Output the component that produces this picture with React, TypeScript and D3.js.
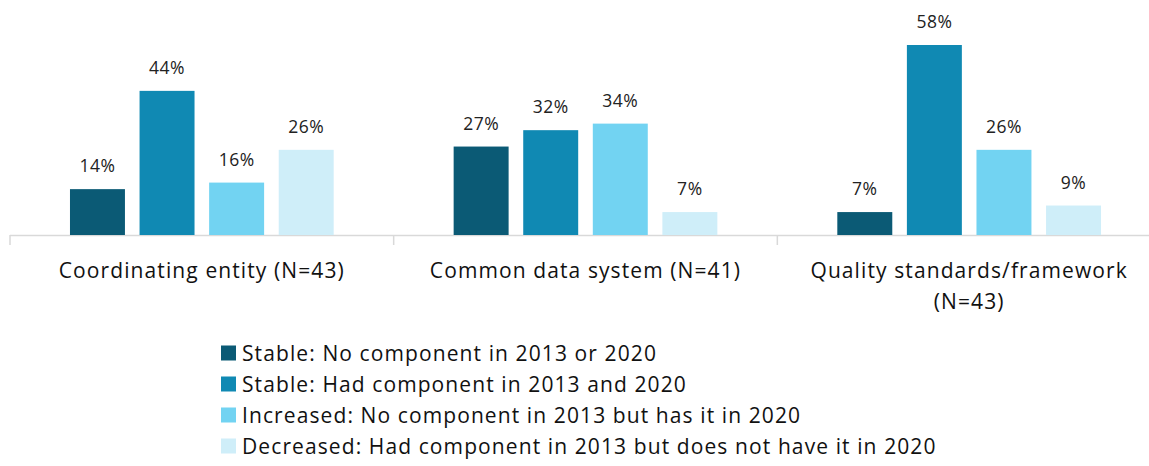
import * as d3 from 'd3';

const categories = ['Coordinating entity (N=43)', 'Common data system (N=41)', 'Quality standards/framework (N=43)'];
const categoryLines = [['Coordinating entity (N=43)'], ['Common data system (N=41)'], ['Quality standards/framework', '(N=43)']];
const seriesNames = [
    'Stable: No component in 2013 or 2020',
    'Stable: Had component in 2013 and 2020',
    'Increased: No component in 2013 but has it in 2020',
    'Decreased: Had component in 2013 but does not have it in 2020',
];
const seriesColors = ['#0b5a75', '#1089b3', '#72d3f2', '#cfeef9'];
const values = [
    [14, 44, 16, 26],
    [27, 32, 34, 7],
    [7, 58, 26, 9],
];

const width = 1149;
const height = 466;
const FONT = '"Open Sans", "Noto Sans", sans-serif';

const x0 = d3.scaleBand<number>()
    .domain(d3.range(categories.length))
    .range([10, 1161])
    .paddingInner(0)
    .paddingOuter(0);

const x1 = d3.scaleBand<number>()
    .domain(d3.range(seriesNames.length))
    .range([0, x0.bandwidth()])
    .paddingInner(0.21)
    .paddingOuter(0.862);

const baseline = 235;
const y = d3.scaleLinear().domain([0, 58]).range([baseline, 45]);

export default function App() {
    return (
        <svg width={width} height={height} style={{ display: 'block', position: 'absolute', left: 0, top: 0 }}>
            <line x1={10} x2={width} y1={baseline + 0.5} y2={baseline + 0.5} stroke="#d9d9d9" strokeWidth={1.5} />
            {d3.range(categories.length + 1).map(i => {
                const tx = 10 + i * x0.bandwidth();
                return <line key={'t' + i} x1={tx} x2={tx} y1={baseline} y2={baseline + 10} stroke="#d9d9d9" strokeWidth={1.5} />;
            })}
            {values.map((row, ci) => (
                <g key={ci} transform={`translate(${x0(ci)},0)`}>
                    {row.map((v, si) => (
                        <g key={si}>
                            <rect
                                x={x1(si)}
                                y={y(v)}
                                width={x1.bandwidth()}
                                height={baseline - y(v)}
                                fill={seriesColors[si]}
                            />
                            <text
                                x={(x1(si) ?? 0) + x1.bandwidth() / 2}
                                y={y(v) - 17}
                                textAnchor="middle"
                                fontFamily={FONT}
                                fontSize={17.5}
                                letterSpacing={0.5}
                                fill="#222"
                            >
                                {v}%
                            </text>
                        </g>
                    ))}
                    {categoryLines[ci].map((line, li) => (
                        <text
                            key={'c' + li}
                            x={x0.bandwidth() / 2}
                            y={278 + li * 31}
                            textAnchor="middle"
                            fontFamily={FONT}
                            fontSize={21}
                            letterSpacing={1.1}
                            fill="#111"
                        >
                            {line}
                        </text>
                    ))}
                </g>
            ))}
            {seriesNames.map((name, si) => (
                <g key={'l' + si} transform={`translate(221,${353 + si * 31})`}>
                    <rect x={0} y={-7.5} width={15} height={15} fill={seriesColors[si]} />
                    <text x={21} y={7.5} fontFamily={FONT} fontSize={21} letterSpacing={1.1} fill="#111">{name}</text>
                </g>
            ))}
        </svg>
    );
}
